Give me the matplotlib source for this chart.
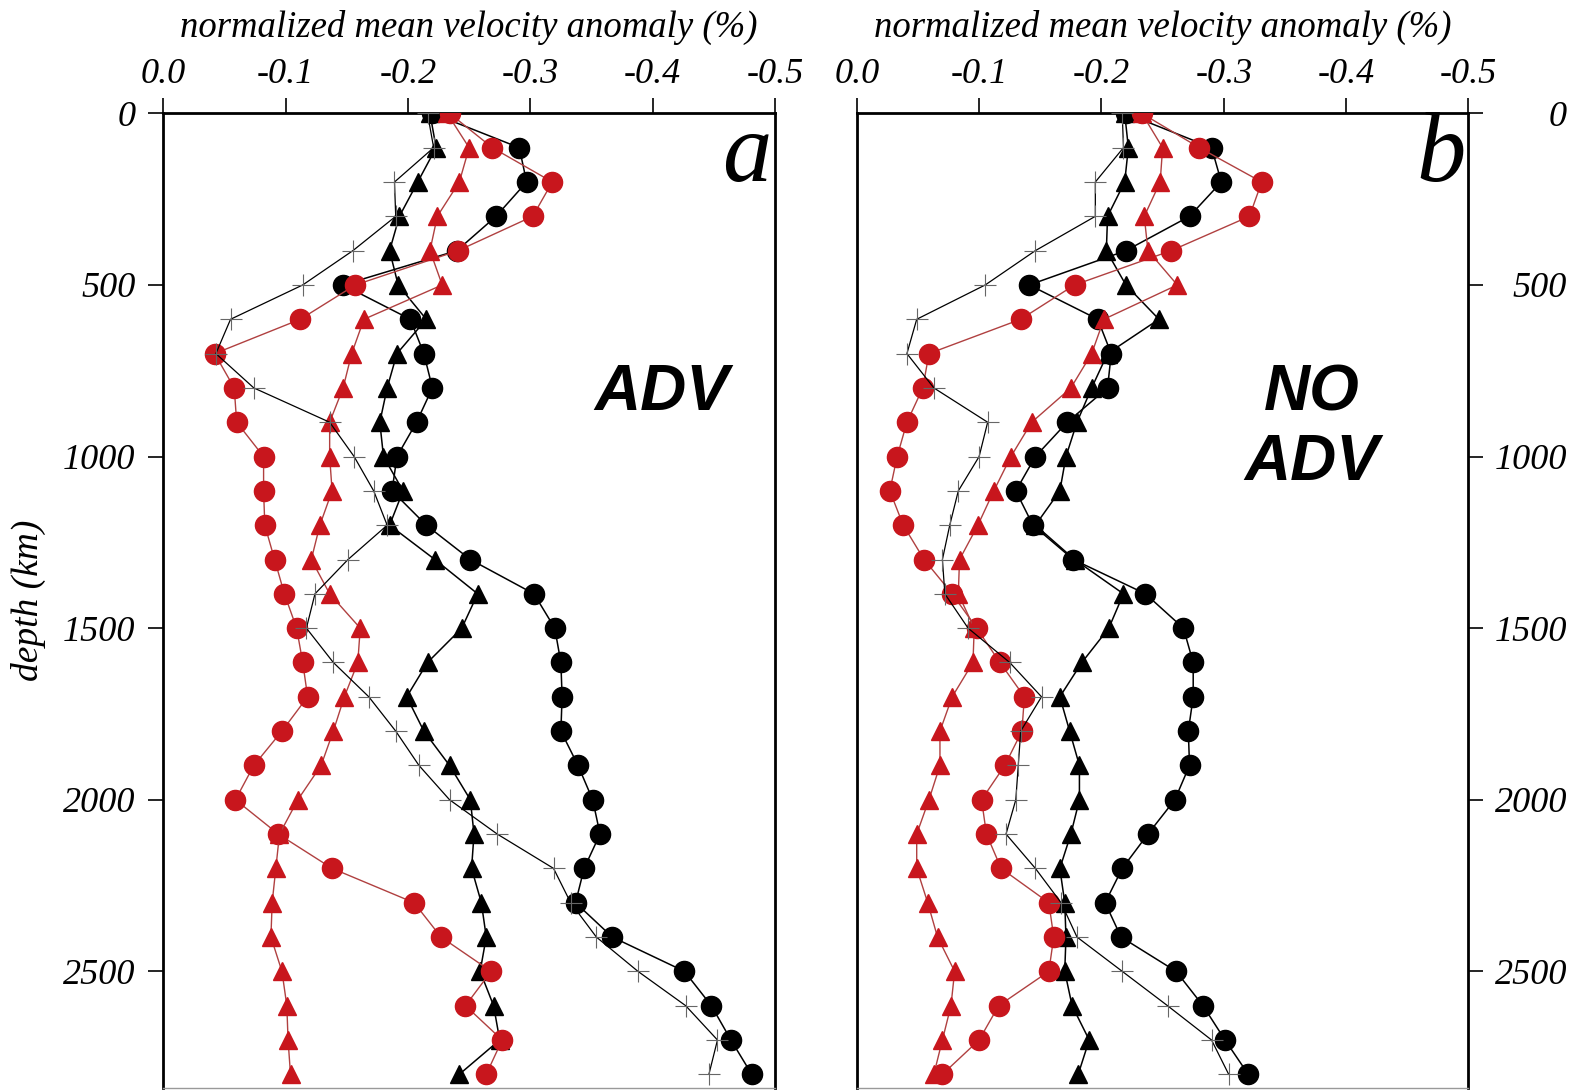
import numpy as np
import matplotlib
matplotlib.use("Agg")
import matplotlib.pyplot as plt

# depth of each sample (km)
depth = np.arange(0, 2900, 100)

# panel a (ADV) - normalized mean velocity anomaly (%), read as magnitudes
bc_a = [0.220, 0.291, 0.297, 0.272, 0.240, 0.147, 0.202, 0.213, 0.220, 0.207,
        0.191, 0.187, 0.215, 0.251, 0.303, 0.320, 0.325, 0.326, 0.325, 0.339,
        0.351, 0.357, 0.344, 0.337, 0.367, 0.426, 0.448, 0.464, 0.481]
rc_a = [0.234, 0.269, 0.318, 0.302, 0.241, 0.157, 0.112, 0.042, 0.058, 0.060,
        0.082, 0.082, 0.083, 0.091, 0.099, 0.109, 0.114, 0.118, 0.097, 0.074,
        0.059, 0.094, 0.138, 0.205, 0.227, 0.268, 0.247, 0.277, 0.264]
bt_a = [0.218, 0.223, 0.208, 0.193, 0.185, 0.192, 0.215, 0.191, 0.183, 0.177,
        0.180, 0.196, 0.185, 0.222, 0.257, 0.244, 0.216, 0.199, 0.213, 0.234,
        0.251, 0.254, 0.252, 0.260, 0.264, 0.259, 0.270, 0.275, 0.242]
rt_a = [0.232, 0.250, 0.242, 0.224, 0.218, 0.228, 0.164, 0.154, 0.147, 0.136,
        0.136, 0.138, 0.128, 0.121, 0.136, 0.161, 0.159, 0.148, 0.139, 0.129,
        0.110, 0.095, 0.092, 0.089, 0.088, 0.097, 0.101, 0.102, 0.104]
pl_a = [0.216, 0.221, 0.189, 0.190, 0.155, 0.114, 0.055, 0.043, 0.074, 0.136,
        0.156, 0.172, 0.183, 0.151, 0.124, 0.117, 0.139, 0.168, 0.190, 0.209,
        0.234, 0.273, 0.319, 0.333, 0.354, 0.388, 0.427, 0.453, 0.446]

# panel b (NO ADV)
bc_b = [0.220, 0.290, 0.298, 0.272, 0.220, 0.141, 0.197, 0.208, 0.205, 0.172,
        0.146, 0.130, 0.144, 0.177, 0.236, 0.267, 0.275, 0.275, 0.271, 0.272,
        0.260, 0.238, 0.217, 0.203, 0.216, 0.261, 0.283, 0.301, 0.320]
rc_b = [0.233, 0.280, 0.331, 0.321, 0.257, 0.178, 0.134, 0.059, 0.054, 0.041,
        0.033, 0.027, 0.038, 0.055, 0.078, 0.098, 0.117, 0.137, 0.135, 0.121,
        0.102, 0.106, 0.118, 0.157, 0.161, 0.157, 0.116, 0.100, 0.070]
bt_b = [0.219, 0.222, 0.219, 0.205, 0.204, 0.220, 0.247, 0.205, 0.192, 0.180,
        0.171, 0.166, 0.146, 0.178, 0.218, 0.206, 0.184, 0.166, 0.174, 0.182,
        0.182, 0.175, 0.166, 0.170, 0.171, 0.170, 0.176, 0.190, 0.181]
rt_b = [0.233, 0.250, 0.248, 0.235, 0.238, 0.262, 0.202, 0.192, 0.175, 0.143,
        0.126, 0.112, 0.099, 0.084, 0.083, 0.096, 0.095, 0.078, 0.068, 0.068,
        0.059, 0.049, 0.049, 0.058, 0.066, 0.080, 0.077, 0.070, 0.063]
pl_b = [0.217, 0.218, 0.195, 0.195, 0.146, 0.105, 0.049, 0.041, 0.063, 0.107,
        0.100, 0.083, 0.076, 0.070, 0.072, 0.091, 0.125, 0.151, 0.134, 0.132,
        0.130, 0.122, 0.146, 0.167, 0.180, 0.217, 0.254, 0.290, 0.304]

x_ticks = [0.0, -0.1, -0.2, -0.3, -0.4, -0.5]
y_ticks = [0, 500, 1000, 1500, 2000, 2500]

RED = '#c8161d'
RED_LINE = '#b04040'

plt.rcParams['font.family'] = 'Liberation Serif'
plt.rcParams['font.style'] = 'italic'


def draw_panel(ax, bc, rc, bt, rt, pl):
    ax.plot(-np.array(bc), depth, '-o', color='black', lw=1.1,
            ms=14.5, mec='black', mfc='black', zorder=2)
    ax.plot(-np.array(bt), depth, '-^', color='black', lw=1.1,
            ms=13, mec='black', mfc='black', zorder=3)
    ax.plot(-np.array(rc), depth, '-o', color=RED_LINE, lw=1.0,
            ms=14.5, mec=RED, mfc=RED, zorder=4)
    ax.plot(-np.array(rt), depth, '-^', color=RED_LINE, lw=1.0,
            ms=13, mec=RED, mfc=RED, zorder=5)
    ax.plot(-np.array(pl), depth, '-', color='black', lw=0.9, zorder=6)
    ax.plot(-np.array(pl), depth, '+', color='#666666', ms=16, mew=0.8,
            zorder=6)

    ax.set_xlim(0, -0.5)
    ax.set_ylim(2840, 0)
    ax.xaxis.tick_top()
    ax.set_xticks(x_ticks)
    ax.set_xticklabels([f"{v:.1f}" for v in x_ticks])
    ax.set_yticks(y_ticks)
    ax.set_yticklabels([str(v) for v in y_ticks])
    ax.tick_params(axis='both', direction='out', length=11, width=1.2,
                   labelsize=26)
    ax.tick_params(axis='x', pad=5)
    for sp in ax.spines.values():
        sp.set_linewidth(2.0)
    ax.spines['bottom'].set_color('#999999')
    ax.spines['bottom'].set_linewidth(1.0)
    ax.set_title('normalized mean velocity anomaly (%)', fontsize=26.5,
                 pad=55)


fig = plt.figure(figsize=(15.79, 10.90), dpi=100)
ax_a = fig.add_axes([0.1034, 0.0018, 0.3874, 0.8942])
ax_b = fig.add_axes([0.5426, 0.0018, 0.3874, 0.8942])

draw_panel(ax_a, bc_a, rc_a, bt_a, rt_a, pl_a)
draw_panel(ax_b, bc_b, rc_b, bt_b, rt_b, pl_b)

ax_a.tick_params(axis='y', left=True, right=False, labelleft=True, pad=9)
ax_b.tick_params(axis='y', left=False, right=True, labelleft=False,
                 labelright=True, pad=60)
for t in ax_b.yaxis.get_major_ticks():
    t.label2.set_horizontalalignment('right')

ax_a.set_ylabel('depth (km)', fontsize=27, labelpad=12)

ax_a.text(0.995, 0.931, 'a', transform=ax_a.transAxes, ha='right',
          va='baseline', fontsize=71)
ax_b.text(0.995, 0.931, 'b', transform=ax_b.transAxes, ha='right',
          va='baseline', fontsize=71)

ax_a.text(0.815, 0.713, 'ADV', transform=ax_a.transAxes, ha='center',
          va='center', fontsize=46, family='Liberation Sans',
          weight='bold', style='italic')
ax_b.text(0.744, 0.677, 'NO\nADV', transform=ax_b.transAxes, ha='center',
          va='center', fontsize=46, family='Liberation Sans',
          weight='bold', style='italic', linespacing=1.2)

fig.savefig('out.png', dpi=100)
